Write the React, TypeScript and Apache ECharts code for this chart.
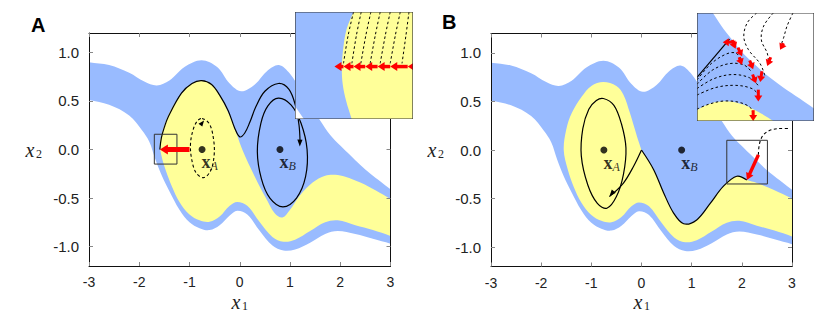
import React, { useEffect, useRef } from "react";
import * as echarts from "echarts";

type P = [number, number];

// ---------------- axes / ticks ----------------
const X_TICKS = [-3, -2, -1, 0, 1, 2, 3];
const Y_TICKS = [-1.0, -0.5, 0.0, 0.5, 1.0];

// ---------------- shared landscape (both panels) ----------------
const upperEdge: P[] = [[-3, 0.9], [-2.6, 0.87], [-2.2, 0.79], [-1.9, 0.7], [-1.65, 0.66], [-1.4, 0.71], [-1.1, 0.85], [-0.76, 0.92], [-0.45, 0.85], [-0.2, 0.68], [0.03, 0.6], [0.3, 0.67], [0.55, 0.81], [0.78, 0.87], [1.0, 0.78], [1.2, 0.62], [1.4, 0.45], [1.6, 0.3], [1.8, 0.15], [2.0, 0.04], [2.2, -0.06], [2.4, -0.16], [2.6, -0.25], [2.8, -0.33], [3.0, -0.41]];
const lowerEdge: P[] = [[-3, 0.51], [-2.6, 0.46], [-2.2, 0.35], [-1.95, 0.2], [-1.8, 0.08], [-1.68, -0.1], [-1.55, -0.27], [-1.4, -0.43], [-1.2, -0.62], [-1.0, -0.75], [-0.8, -0.81], [-0.6, -0.83], [-0.4, -0.78], [-0.2, -0.68], [-0.05, -0.63], [0.15, -0.67], [0.4, -0.84], [0.65, -0.99], [0.87, -1.04], [1.1, -1.03], [1.4, -0.96], [1.7, -0.87], [1.95, -0.84], [2.3, -0.87], [2.65, -0.92], [3.0, -0.97]];
const yellowBottom: P[] = [[3.0, -0.89], [2.65, -0.83], [2.3, -0.78], [1.95, -0.73], [1.7, -0.75], [1.4, -0.84], [1.1, -0.93], [0.87, -0.95], [0.65, -0.9], [0.4, -0.75], [0.15, -0.58], [-0.05, -0.54], [-0.2, -0.58], [-0.4, -0.69], [-0.6, -0.745], [-0.8, -0.73], [-1.0, -0.67], [-1.2, -0.54]];

// ---------------- panel A ----------------
const yellowUpperA: P[] = [[-1.35, -0.38], [-1.47, -0.22], [-1.56, -0.06], [-1.59, 0.06], [-1.53, 0.2], [-1.38, 0.4], [-1.12, 0.6], [-0.95, 0.68], [-0.76, 0.71], [-0.55, 0.67], [-0.36, 0.52], [-0.14, 0.27], [0.05, 0.0], [0.3, -0.28], [0.52, -0.5], [0.7, -0.66], [0.85, -0.7], [1.0, -0.62], [1.2, -0.47], [1.45, -0.34], [1.7, -0.27], [1.9, -0.26], [2.1, -0.28], [2.4, -0.34], [2.7, -0.42], [3.0, -0.51]];
const trajA: P[] = [[-1.59, 0.0], [-1.56, 0.12], [-1.5, 0.23], [-1.42, 0.34], [-1.16, 0.58], [-0.95, 0.68], [-0.76, 0.71], [-0.56, 0.67], [-0.4, 0.56], [-0.23, 0.4], [-0.1, 0.22], [0.0, 0.13], [0.1, 0.17], [0.2, 0.28], [0.32, 0.44], [0.5, 0.6], [0.77, 0.68], [0.98, 0.62], [1.11, 0.45], [1.18, 0.25], [1.2, 0.08]];
const loopA_B: P[] = [[0.77, 0.53], [1.02, 0.46], [1.22, 0.27], [1.34, 0.0], [1.31, -0.28], [1.13, -0.5], [0.86, -0.59], [0.6, -0.5], [0.43, -0.3], [0.35, -0.02], [0.42, 0.27], [0.56, 0.45]];
const dashedLoopA: P[] = [[-0.75, 0.32], [-0.6, 0.26], [-0.52, 0.1], [-0.51, -0.06], [-0.58, -0.22], [-0.72, -0.29], [-0.87, -0.24], [-0.96, -0.09], [-0.98, 0.06], [-0.93, 0.2], [-0.85, 0.29]];
const boxA: P[] = [[-1.7, -0.15], [-1.25, 0.157]];
const redArrowA: P[] = [[-1.0, 0.0], [-1.59, 0.0]];

// ---------------- panel B ----------------
const yellowUpperB: P[] = [[-1.35, -0.38], [-1.47, -0.2], [-1.55, 0.0], [-1.5, 0.21], [-1.39, 0.38], [-1.19, 0.55], [-1.0, 0.66], [-0.76, 0.7], [-0.5, 0.66], [-0.36, 0.57], [-0.23, 0.38], [-0.09, 0.14], [0.0, 0.0]];
const trajB_right: P[] = [[0.0, 0.0], [0.24, -0.2], [0.44, -0.44], [0.64, -0.65], [0.84, -0.76], [1.1, -0.72], [1.37, -0.55], [1.63, -0.375], [1.9, -0.27], [2.1, -0.31]];
const yellowTopRightB: P[] = [[2.3, -0.34], [2.63, -0.41], [3.0, -0.5]];
const trajB_left: P[] = [[0.0, 0.0], [-0.16, -0.17], [-0.36, -0.34], [-0.64, -0.48]];
const loopB_A: P[] = [[-0.76, 0.53], [-0.55, 0.46], [-0.4, 0.27], [-0.31, 0.02], [-0.36, -0.25], [-0.5, -0.48], [-0.69, -0.6], [-0.88, -0.55], [-1.07, -0.36], [-1.2, -0.06], [-1.17, 0.22], [-1.05, 0.42], [-0.9, 0.51]];
const dashedB: P[] = [[2.33, -0.05], [2.35, 0.06], [2.42, 0.15], [2.55, 0.2], [2.72, 0.22], [2.97, 0.22]];
const boxB: P[] = [[1.7, -0.35], [2.51, 0.1]];
const redArrowB: P[] = [[2.33, -0.05], [2.1, -0.31]];

// fixed points
const fixedPoints = [{ name: "A", x: -0.75, y: 0 }, { name: "B", x: 0.8, y: 0 }];

// ---------------- inset A (unit coordinates, v downward) ----------------
const insetA_yellowEdge: P[] = [[0.496, 0], [0.44, 0.15], [0.41, 0.33], [0.397, 0.52], [0.405, 0.68], [0.433, 0.83], [0.48, 1.0]];
const insetA_white: P[] = [[0, 0.88], [0, 1], [0.075, 1]];
const insetA_dashed: P[][] = [
  [[0.496, 0], [0.45, 0.22], [0.411, 0.48]],
  [[0.561, 0], [0.52, 0.22], [0.482, 0.48]],
  [[0.643, 0], [0.6, 0.22], [0.558, 0.48]],
  [[0.722, 0], [0.68, 0.22], [0.637, 0.48]],
  [[0.807, 0], [0.765, 0.22], [0.722, 0.48]],
  [[0.892, 0], [0.85, 0.22], [0.807, 0.48]],
  [[0.966, 0], [0.94, 0.22], [0.907, 0.48]],
];
const insetA_arrowTips = [0.334, 0.411, 0.496, 0.595, 0.7, 0.807, 0.955];
const insetA_arrowRow = 0.51;

// ---------------- inset B ----------------
const insetB_blueEdge: P[] = [[0.136, 0], [0.212, 0.124], [0.283, 0.224], [0.368, 0.342], [0.467, 0.45], [0.595, 0.575], [0.737, 0.689], [0.878, 0.792], [1.0, 0.885]];
const insetB_yellowTop: P[] = [[0, 0.9], [0.057, 0.863], [0.142, 0.829], [0.227, 0.817], [0.312, 0.823], [0.411, 0.854], [0.51, 0.907], [0.609, 0.969], [0.652, 1.0]];
const insetB_solid: P[] = [[0, 0.596], [0.278, 0.242]];
const insetB_dashed: P[][] = [
  [[0, 0.62], [0.12, 0.47], [0.25, 0.38], [0.33, 0.37], [0.38, 0.43]],
  [[0, 0.66], [0.13, 0.53], [0.27, 0.47], [0.4, 0.48], [0.47, 0.55]],
  [[0, 0.7], [0.14, 0.61], [0.3, 0.57], [0.45, 0.6], [0.53, 0.68]],
  [[0, 0.76], [0.16, 0.69], [0.33, 0.67], [0.47, 0.7], [0.53, 0.76]],
  [[0, 0.89], [0.1, 0.845], [0.23, 0.815], [0.37, 0.83], [0.46, 0.88], [0.48, 0.95]],
  [[0.51, 0], [0.43, 0.09], [0.4, 0.22], [0.44, 0.34], [0.54, 0.47], [0.58, 0.58]],
  [[0.652, 0], [0.57, 0.12], [0.55, 0.25], [0.6, 0.37], [0.61, 0.44]],
  [[0.82, 0], [0.77, 0.12], [0.74, 0.23], [0.72, 0.29]],
];
const insetB_arrows: P[][] = [
  [[0.33, 0.27], [0.22, 0.27]],
  [[0.3, 0.25], [0.33, 0.33]],
  [[0.35, 0.32], [0.385, 0.4]],
  [[0.36, 0.41], [0.385, 0.48]],
  [[0.45, 0.44], [0.48, 0.52]],
  [[0.475, 0.57], [0.505, 0.65]],
  [[0.555, 0.54], [0.54, 0.64]],
  [[0.63, 0.41], [0.6, 0.49]],
  [[0.74, 0.28], [0.71, 0.34]],
  [[0.524, 0.71], [0.524, 0.82]],
  [[0.48, 0.9], [0.48, 1.0]],
];

// ---------------- styling ----------------
const BLUE = "#99bbff";
const YELLOW = "#ffff99";
const RED = "#ff0000";
const INK = "#111";
const SANS = '"Liberation Sans", Arial, Helvetica, sans-serif';
const SERIF = '"Liberation Serif", "Times New Roman", serif';

const MAIN_GRIDS = [
  { left: 89, top: 33, width: 301.5, height: 233 },
  { left: 491, top: 33.5, width: 301, height: 233 },
];
const INSET_GRIDS = [
  { left: 295, top: 12, width: 118, height: 107 },
  { left: 697, top: 13, width: 117, height: 108 },
];

function joinSegs(segs: P[][]): P[] {
  const out: P[] = [];
  segs.forEach((s) => out.push(...s));
  return out;
}
const rev = (a: P[]) => a.slice().reverse();
const rectPts = (b: P[]): P[][] => {
  const [[x0, y0], [x1, y1]] = b;
  return [[[x0, y0], [x1, y0]], [[x1, y0], [x1, y1]], [[x1, y1], [x0, y1]], [[x0, y1], [x0, y0]]];
};

function shape(axis: number, z: number, draw: (api: any) => any[]) {
  const c = axis >= 4 ? 0.5 : 0;
  return {
    type: "custom",
    coordinateSystem: "cartesian2d",
    xAxisIndex: axis,
    yAxisIndex: axis,
    z,
    silent: true,
    clip: true,
    data: [[c, c]],
    renderItem: (_p: any, api: any) => ({ type: "group", children: draw(api) }),
  };
}
const fill = (api: any, pts: P[], color: string, smooth = 0.35) => ({
  type: "polygon",
  shape: { points: pts.map((p) => api.coord(p)), smooth },
  style: { fill: color, stroke: "none" },
});
const stroke = (api: any, pts: P[], color: string, w: number, dash?: number[], smooth = 0.35, closed = false) => ({
  type: closed ? "polygon" : "polyline",
  shape: { points: pts.map((p) => api.coord(p)), smooth },
  style: { fill: "none", stroke: color, lineWidth: w, lineDash: dash || null },
});
function arrow(api: any, from: P, to: P, color: string, shaftW: number, headL: number, headHalf: number, headOnly = false) {
  const a = api.coord(from);
  const b = api.coord(to);
  const dx = b[0] - a[0];
  const dy = b[1] - a[1];
  const len = Math.hypot(dx, dy) || 1;
  const ux = dx / len;
  const uy = dy / len;
  const px = -uy;
  const py = ux;
  const bx = b[0] - ux * headL;
  const by = b[1] - uy * headL;
  const out: any[] = [];
  if (!headOnly) {
    out.push({ type: "line", shape: { x1: a[0], y1: a[1], x2: bx + ux, y2: by + uy }, style: { stroke: color, lineWidth: shaftW } });
  }
  out.push({
    type: "polygon",
    shape: { points: [b, [bx + px * headHalf, by + py * headHalf], [bx - px * headHalf, by - py * headHalf]] },
    style: { fill: color },
  });
  return out;
}

function buildOption() {
  const xAxis: any[] = [];
  const yAxis: any[] = [];
  const grid: any[] = [];
  MAIN_GRIDS.forEach((g, gi) => {
    grid.push({ ...g, show: false, containLabel: false, outerBoundsMode: "none" });
    ["bottom", "top"].forEach((pos) =>
      xAxis.push({
        type: "value", gridIndex: gi, position: pos, min: -3, max: 3, interval: 1, z: 8,
        axisLine: { show: true, onZero: false, lineStyle: { color: INK, width: 1 } },
        axisTick: { show: true, inside: true, length: 4, customValues: X_TICKS, lineStyle: { color: "#888" } },
        axisLabel: {
          show: pos === "bottom", margin: 9, fontSize: 14, lineHeight: 14, fontFamily: SANS, color: "#222",
          customValues: X_TICKS, formatter: (v: number) => String(v),
        },
        splitLine: { show: false },
      })
    );
    ["left", "right"].forEach((pos) =>
      yAxis.push({
        type: "value", gridIndex: gi, position: pos, min: -1.2, max: 1.2, z: 8,
        axisLine: { show: true, onZero: false, lineStyle: { color: INK, width: 1 } },
        axisTick: { show: true, inside: true, length: 4, customValues: Y_TICKS, lineStyle: { color: "#888" } },
        axisLabel: {
          show: pos === "left", margin: 10, fontSize: 15, fontFamily: SANS, color: "#222",
          customValues: Y_TICKS, formatter: (v: number) => v.toFixed(1),
        },
        splitLine: { show: false },
      })
    );
  });
  INSET_GRIDS.forEach((g, i) => {
    grid.push({ ...g, show: false, containLabel: false, outerBoundsMode: "none" });
    xAxis.push({ type: "value", gridIndex: 2 + i, min: 0, max: 1, show: false });
    yAxis.push({ type: "value", gridIndex: 2 + i, min: 0, max: 1, inverse: true, show: false });
  });

  const blueBand = joinSegs([
    upperEdge,
    [upperEdge[upperEdge.length - 1], lowerEdge[lowerEdge.length - 1]],
    rev(lowerEdge),
    [lowerEdge[0], upperEdge[0]],
  ]);
  const yellowA = joinSegs([
    [...yellowBottom, ...yellowUpperA],
    [yellowUpperA[yellowUpperA.length - 1], yellowBottom[0]],
  ]);
  const yellowB = joinSegs([
    [...yellowBottom, ...yellowUpperB],
    [...trajB_right, ...yellowTopRightB],
    [yellowTopRightB[yellowTopRightB.length - 1], yellowBottom[0]],
  ]);

  const series: any[] = [];
  // Panel A
  series.push(shape(0, 2, (api) => [fill(api, blueBand, BLUE), fill(api, yellowA, YELLOW)]));
  series.push(shape(0, 4, (api) => [
    stroke(api, trajA, "#000", 1.2),
    stroke(api, loopA_B, "#000", 1.2, undefined, 0.35, true),
    stroke(api, dashedLoopA, "#000", 1.1, [3, 2.5], 0.35, true),
    ...arrow(api, [1.2, 0.17], [1.195, 0.03], "#000", 1, 7, 2.6, true),
    ...arrow(api, [-0.8, 0.24], [-0.71, 0.3], "#000", 1, 6, 2.4, true),
    stroke(api, joinSegs(rectPts(boxA)), "#333", 1, undefined, 0),
    ...arrow(api, redArrowA[0], redArrowA[1], RED, 5, 8, 5),
  ]));
  // Panel B
  series.push(shape(2, 2, (api) => [fill(api, blueBand, BLUE), fill(api, yellowB, YELLOW)]));
  series.push(shape(2, 4, (api) => [
    stroke(api, trajB_right, "#000", 1.2),
    stroke(api, trajB_left, "#000", 1.2),
    stroke(api, loopB_A, "#000", 1.2, undefined, 0.35, true),
    ...arrow(api, [-0.53, -0.41], [-0.64, -0.48], "#000", 1, 7, 2.6, true),
    stroke(api, dashedB, "#000", 1.1, [3, 2.5]),
    stroke(api, joinSegs(rectPts(boxB)), "#333", 1, undefined, 0),
    ...arrow(api, redArrowB[0], redArrowB[1], RED, 3.5, 7, 4),
  ]));
  // fixed point dots + labels
  [0, 2].forEach((ax) =>
    series.push({
      type: "scatter", xAxisIndex: ax, yAxisIndex: ax, z: 6, silent: true,
      symbol: "circle", symbolSize: 7, itemStyle: { color: "#000" },
      data: fixedPoints.map((d) => ({ value: [d.x, d.y], name: d.name })),
      label: {
        show: true, position: [3, 6], formatter: (p: any) => `{b|x}{s|${p.name}}`,
        rich: {
          b: { fontFamily: SERIF, fontWeight: "bold", fontSize: 18, color: "#000" },
          s: { fontFamily: SERIF, fontStyle: "italic", fontSize: 12, color: "#000", padding: [8, 0, 0, 0] },
        },
      },
    })
  );

  // Inset A
  const unitRect: P[] = joinSegs(rectPts([[0, 0], [1, 1]]));
  series.push(shape(4, 20, (api) => [
    fill(api, unitRect, BLUE, 0),
    fill(api, joinSegs([insetA_yellowEdge, [[0.48, 1], [1, 1]], [[1, 1], [1, 0]], [[1, 0], [0.496, 0]]]), YELLOW),
    fill(api, insetA_white, "#fff", 0),
  ]));
  series.push(shape(4, 22, (api) => {
    const out: any[] = insetA_dashed.map((d) => stroke(api, d, "#000", 1, [2.5, 2.5], 0.3));
    insetA_arrowTips.forEach((t, i) => {
      const tail = i < insetA_arrowTips.length - 1 ? insetA_arrowTips[i + 1] : 1.0;
      out.push(...arrow(api, [tail, insetA_arrowRow], [t, insetA_arrowRow], RED, 3.5, 7, 4.5));
    });
    out.push(stroke(api, unitRect, "#333", 1.2, undefined, 0, true));
    return out;
  }));
  // Inset B
  series.push(shape(5, 20, (api) => [
    fill(api, unitRect, "#fff", 0),
    fill(api, joinSegs([[[0, 0], [0.136, 0]], insetB_blueEdge, [[1, 0.885], [1, 1]], [[1, 1], [0, 1]], [[0, 1], [0, 0]]]), BLUE, 0.3),
    fill(api, joinSegs([insetB_yellowTop, [[0.652, 1], [0, 1]], [[0, 1], [0, 0.9]]]), YELLOW, 0.3),
  ]));
  series.push(shape(5, 22, (api) => {
    const out: any[] = insetB_dashed.map((d) => stroke(api, d, "#000", 1, [2.5, 2.5], 0.35));
    out.push(stroke(api, insetB_solid, "#000", 1.2, undefined, 0));
    insetB_arrows.forEach(([a, b]) => out.push(...arrow(api, a, b, RED, 3, 6, 4)));
    out.push(stroke(api, unitRect, "#333", 1.2, undefined, 0, true));
    return out;
  }));

  // axis names: italic x with an upright subscript, as two small texts
  const axisName = (x: number, y: number, sub: string) => [
    {
      type: "text", x, y, z: 30,
      style: {
        text: "x", font: `italic 20px ${SERIF}`, fill: "#222", lineHeight: 12,
        textAlign: "center", textVerticalAlign: "middle", align: "center", verticalAlign: "middle",
      },
    },
    {
      type: "text", x: x + 9, y: y + 4, z: 30,
      style: {
        text: sub, font: `12px ${SERIF}`, fill: "#222", lineHeight: 10,
        textAlign: "center", textVerticalAlign: "middle", align: "center", verticalAlign: "middle",
      },
    },
  ];
  const panelLetter = (x: number, y: number, t: string) => ({
    type: "text", x, y, z: 30,
    style: { text: t, font: `bold 20px ${SANS}`, fill: "#000", textAlign: "left", textVerticalAlign: "top", align: "left", verticalAlign: "top" },
  });

  return {
    animation: false,
    backgroundColor: "#fff",
    grid, xAxis, yAxis, series,
    graphic: [
      panelLetter(31, 15, "A"),
      panelLetter(442, 12, "B"),
      ...axisName(236, 302, "1"),
      ...axisName(638, 302, "1"),
      ...axisName(30, 150, "2"),
      ...axisName(432, 150, "2"),
    ],
  };
}

export default function App() {
  const ref = useRef<HTMLDivElement>(null);
  useEffect(() => {
    const chart = echarts.init(ref.current!, null, { renderer: "svg" });
    chart.setOption(buildOption() as any);
    return () => chart.dispose();
  }, []);
  return <div ref={ref} style={{ position: "fixed", left: 0, top: 0, width: 817, height: 313, background: "#fff" }} />;
}
